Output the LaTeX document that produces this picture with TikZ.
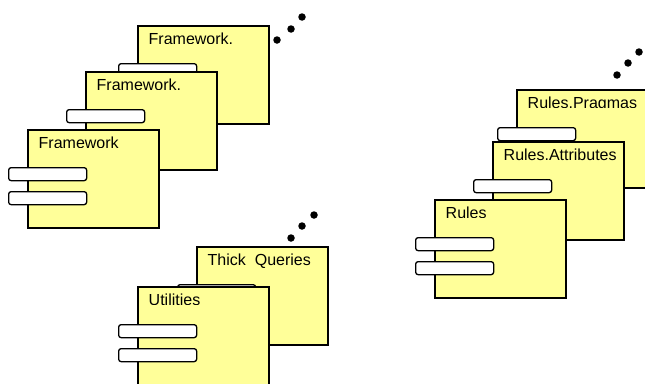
\documentclass[tikz,border=0pt]{standalone}
\usepackage{fontspec}
\setmainfont{Liberation Sans}
\definecolor{compyellow}{HTML}{FFFF99}
\tikzset{
 compbox/.style={draw=black, fill=compyellow, line width=1.6pt, minimum width=131pt, minimum height=98pt, anchor=north west, inner sep=0pt, outer sep=0pt},
 comptab/.style={draw=black, fill=white, line width=1.3pt, rounded corners=2.5pt, minimum width=78pt, minimum height=13pt, anchor=north west, inner sep=0pt},
 complabel/.style={anchor=base west, inner sep=0pt, font=\fontsize{16}{19}\selectfont},
 blackdot/.style={circle, fill=black, minimum size=7.5pt, inner sep=0pt}
}
% #5 = height of the visible label strip
\newcommand\compo[5]{%
 \node[compbox] (#1) at (#2,#3) {};
 \node[comptab] (#1-ta) at (#2-20,#3+37) {};
 \node[comptab] (#1-tb) at (#2-20,#3+61) {};
 \begin{scope}
 \clip (#2,#3) rectangle (#2+131,#3+#5);
 \node[complabel] (#1-l) at (#2+10.5,#3+18.5) {#4};
 \end{scope}
}
\begin{document}
\begin{tikzpicture}[x=1pt,y=-1pt]
\useasboundingbox (0,0) rectangle (645,383);
% Framework group
\compo{fwc}{138}{26}{Framework.}{17}
\compo{fwb}{86}{72}{Framework.}{17}
\compo{fwa}{28}{130}{Framework}{17}
\node[blackdot] (fwd1) at (277,40) {};
\node[blackdot] (fwd2) at (291,29) {};
\node[blackdot] (fwd3) at (302,17) {};
% Utilities group
\compo{tq}{197}{247}{Thick\ \ Queries}{30}
\compo{ut}{138}{287}{Utilities}{17}
\node[blackdot] (utd1) at (291,238) {};
\node[blackdot] (utd2) at (302,226) {};
\node[blackdot] (utd3) at (314,215) {};
% Rules group
\compo{rp}{517}{90}{Rules.Pragmas}{17}
\compo{ra}{493}{142}{Rules.Attributes}{30}
\compo{rr}{435}{200}{Rules}{17}
\node[blackdot] (rd1) at (617,75) {};
\node[blackdot] (rd2) at (628,63) {};
\node[blackdot] (rd3) at (639,52) {};
\end{tikzpicture}
\end{document}
